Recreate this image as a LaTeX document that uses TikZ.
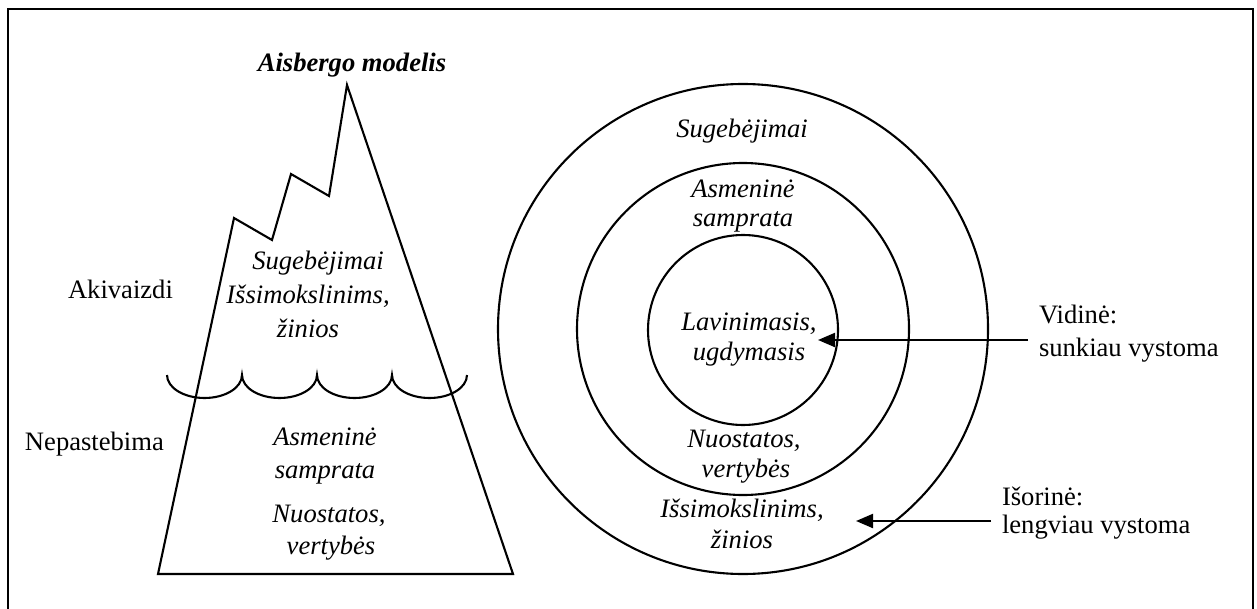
\documentclass[tikz,border=0pt]{standalone}
\usepackage{fontspec}
\setmainfont{Liberation Serif}
\usetikzlibrary{arrows.meta}
\begin{document}
\begin{tikzpicture}[x=0.5pt,y=-0.5pt,
  every node/.style={inner sep=0pt,outer sep=0pt,font=\fontsize{13.3}{16}\selectfont},
  txt/.style={anchor=base},
  ltxt/.style={anchor=base west},
  itxt/.style={anchor=base,font=\fontsize{13.3}{16}\selectfont\itshape},
  outline/.style={line width=1.05pt,line join=miter},
  pointer/.style={line width=1.05pt,-{Triangle[length=8.5pt,width=7pt]}}]
\useasboundingbox (0,0) rectangle (1257,609);

% outer frame (open at the bottom edge)
\draw[line width=1.3pt] (8,609) -- (8,9) -- (1253,9) -- (1253,609);

% ---- iceberg ----
\node[anchor=base,font=\fontsize{13.3}{16}\selectfont\bfseries\itshape] (title) at (352,72) {Aisbergo modelis};
\draw[outline] (158,574) -- (234,218) -- (272,240) -- (291,174) -- (329,196)
  -- (347,85) -- (513,574) -- cycle;
% water line
\draw[outline] (167,375)
  arc[start angle=180,end angle=360,x radius=18.75pt,y radius=11.5pt]
  arc[start angle=180,end angle=360,x radius=18.75pt,y radius=11.5pt]
  arc[start angle=180,end angle=360,x radius=18.75pt,y radius=11.5pt]
  arc[start angle=180,end angle=360,x radius=18.75pt,y radius=11.5pt];

\node[ltxt] (akiv) at (68,299) {Akivaizdi};
\node[ltxt] (nepa) at (25,450) {Nepastebima};

\node[itxt] (isug) at (318,270) {Sugebėjimai};
\node[itxt] (iiss) at (308,303) {Išsimokslinims,};
\node[itxt] (izin) at (308,337) {žinios};
\node[itxt] (iasm) at (325,445) {Asmeninė};
\node[itxt] (isam) at (325,478) {samprata};
\node[itxt] (inuo) at (329,522) {Nuostatos,};
\node[itxt] (iver) at (331,554) {vertybės};

% ---- concentric circles ----
\draw[outline] (743,329) circle[radius=122.5pt];
\draw[outline] (743,329) circle[radius=83pt];
\draw[outline] (743,330) circle[radius=47.5pt];

\node[itxt] (csug) at (742,138) {Sugebėjimai};
\node[itxt] (casm) at (743,198) {Asmeninė};
\node[itxt] (csam) at (743,227) {samprata};
\node[itxt] (clav) at (749,330) {Lavinimasis,};
\node[itxt] (cugd) at (749,360) {ugdymasis};
\node[itxt] (cnuo) at (744,447) {Nuostatos,};
\node[itxt] (cver) at (746,477) {vertybės};
\node[itxt] (ciss) at (742,517) {Išsimokslinims,};
\node[itxt] (czin) at (742,548) {žinios};

% ---- side labels and pointers ----
\node[ltxt] (vid1) at (1039,323) {Vidinė:};
\node[ltxt] (vid2) at (1039,356) {sunkiau vystoma};
\node[ltxt] (iso1) at (1002,505) {Išorinė:};
\node[ltxt] (iso2) at (1002,533) {lengviau vystoma};

\coordinate (vidFrom) at (1028,340);
\coordinate (vidTo) at (818,340);
\coordinate (isoFrom) at (991,521);
\coordinate (isoTo) at (856,521);
\draw[pointer] (vidFrom) -- (vidTo);
\draw[pointer] (isoFrom) -- (isoTo);
\end{tikzpicture}
\end{document}
